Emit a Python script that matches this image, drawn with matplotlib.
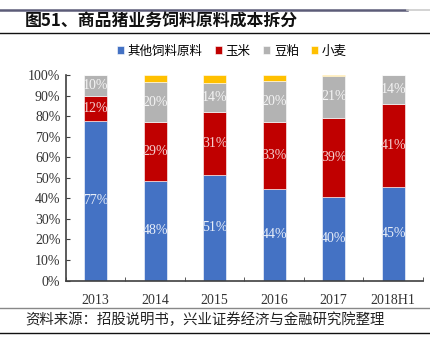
import matplotlib
matplotlib.use("Agg")
import matplotlib.pyplot as plt
from matplotlib.lines import Line2D
import numpy as np

plt.rcParams['font.family'] = ['Noto Sans CJK SC', 'DejaVu Sans']

YEARS = ["2013", "2014", "2015", "2016", "2017", "2018H1"]
SERIES = ["其他饲料原料", "玉米", "豆粕", "小麦"]
OTHER = [77.4, 48.4, 51.3, 44.3, 40.4, 45.3]
CORN = [12.4, 28.6, 30.8, 33.0, 38.6, 40.6]
SOY = [10.2, 19.6, 13.9, 19.6, 20.6, 14.1]
WHEAT = [0.0, 3.4, 4.0, 3.1, 0.4, 0.0]
COLORS = ["#4472C4", "#C00000", "#B3B3B3", "#FFC000"]
LABEL_COLORS = ["#E8EEF8", "#F4D0D0", "#F4F4F4"]

W, H = 431, 337
fig = plt.figure(figsize=(W / 100, H / 100), dpi=100)
ax = fig.add_axes([66 / W, 1 - 280.5 / H, 357 / W, 205.5 / H])

x = np.arange(len(YEARS))
bottom = np.zeros(len(YEARS))
data = [OTHER, CORN, SOY, WHEAT]
for i, (vals, col) in enumerate(zip(data, COLORS)):
    vals = np.array(vals)
    ax.bar(x, vals, 0.39, bottom=bottom, color=col, label=SERIES[i],
           edgecolor="white", linewidth=0.4)
    if i < 3:
        for xi, b, v in zip(x, bottom, vals):
            ax.text(xi, b + v / 2, f"{v:.0f}%", ha="center", va="center",
                    fontsize=10, color=LABEL_COLORS[i],
                    family=["Liberation Serif", "DejaVu Serif"])
    bottom += vals

ax.set_xlim(-0.5, len(YEARS) - 0.5)
ax.set_ylim(0, 100)
ax.set_yticks(range(0, 101, 10))
ax.set_yticklabels([f"{v}%" for v in range(0, 101, 10)])
ax.set_xticks(x)
ax.set_xticklabels(YEARS)
ax.set_xticks(np.arange(-0.5, len(YEARS), 1), minor=True)
ax.tick_params(axis="x", which="major", length=0, pad=10)
ax.tick_params(axis="x", which="minor", length=3, direction="in", color="#404040")
ax.tick_params(axis="y", length=3, direction="in", color="#404040", pad=4)
for lab in ax.get_xticklabels() + ax.get_yticklabels():
    lab.set_family(["Liberation Serif", "DejaVu Serif"])
    lab.set_fontsize(10)
    lab.set_color("#333333")
for s in ["top", "right"]:
    ax.spines[s].set_visible(False)
for s in ["left", "bottom"]:
    ax.spines[s].set_color("#404040")
    ax.spines[s].set_linewidth(1.2)

ax.legend(loc="center", bbox_to_anchor=(232 / W, 1 - 51 / H),
          bbox_transform=fig.transFigure, ncol=4, frameon=False,
          fontsize=9, handlelength=0.55, handleheight=0.55,
          handletextpad=0.3, columnspacing=1.0)

fig.text(25 / W, 1 - 22 / H, "图51、商品猪业务饲料原料成本拆分", fontsize=12.2,
         fontweight="bold", ha="left", va="center", color="#111111")
fig.text(25 / W, 1 - 320 / H, "资料来源：招股说明书，兴业证券经济与金融研究院整理",
         fontsize=10.4, ha="left", va="center", color="#222222")

fig.add_artist(Line2D([0, 407 / W], [1 - 9.5 / H] * 2, color="#5C5C78", lw=1.8))
fig.add_artist(Line2D([407 / W, 1], [1 - 9.5 / H] * 2, color="#CCCCCC", lw=1.2))
fig.add_artist(Line2D([0, 1], [1 - 33 / H] * 2, color="#111111", lw=1.0))
fig.add_artist(Line2D([0, 1], [1 - 307.5 / H] * 2, color="#888888", lw=1.0))
fig.add_artist(Line2D([0, 1], [1 - 332.5 / H] * 2, color="#111111", lw=1.0))

fig.savefig("out.png", dpi=100)
